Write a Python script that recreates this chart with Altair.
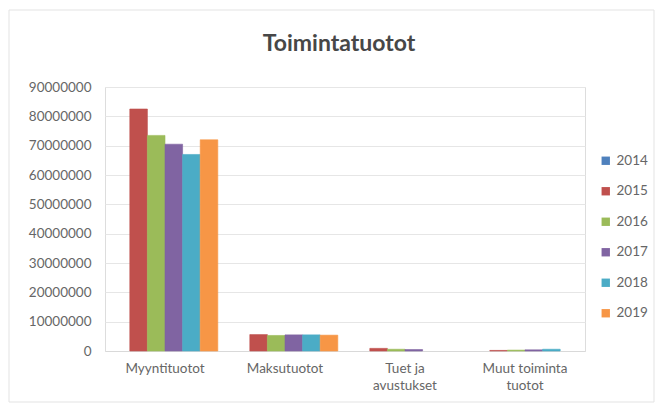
import altair as alt
import pandas as pd

categories = ["Myyntituotot", "Maksutuotot", "Tuet ja avustukset", "Muut toiminta tuotot"]
years = ["2014", "2015", "2016", "2017", "2018", "2019"]
values = {
    "2014": [None, None, None, None],
    "2015": [82500000, 5600000, 900000, 200000],
    "2016": [73500000, 5300000, 600000, 300000],
    "2017": [70500000, 5500000, 500000, 400000],
    "2018": [67000000, 5500000, None, 600000],
    "2019": [72000000, 5400000, None, None],
}
colors = ["#4F81BD", "#C0504D", "#9BBB59", "#8064A2", "#4BACC6", "#F79646"]
y_ticks = [0, 10000000, 20000000, 30000000, 40000000, 50000000, 60000000, 70000000, 80000000, 90000000]

rows = []
for y in years:
    for c, v in zip(categories, values[y]):
        if v is not None:
            rows.append({"category": c, "year": y, "value": v})
df = pd.DataFrame(rows)

FONT = "Lato"
GREY = "#666666"

bars = alt.Chart(df).mark_bar(strokeWidth=1, strokeOpacity=0.6).encode(
    x=alt.X("category:N", sort=categories, title=None,
            scale=alt.Scale(domain=categories, paddingInner=0.12, paddingOuter=0.06),
            axis=alt.Axis(labelExpr="datum.value == 'Tuet ja avustukset' ? ['Tuet ja', 'avustukset'] : datum.value == 'Muut toiminta tuotot' ? ['Muut toiminta', 'tuotot'] : datum.value",
                          labelAngle=0, labelFont=FONT, labelFontSize=13.5, labelColor=GREY,
                          domain=True, domainColor="#d9d9d9", ticks=False, labelPadding=10,
                          labelLineHeight=17)),
    xOffset=alt.XOffset("year:N", scale=alt.Scale(domain=years)),
    y=alt.Y("value:Q", title=None,
            scale=alt.Scale(domain=[0, 90000000], nice=False),
            axis=alt.Axis(values=y_ticks, format="d", labelFont=FONT, labelFontSize=13.5,
                          labelColor=GREY, domain=False, ticks=False, labelPadding=14,
                          grid=True, gridColor="#e6e6e6")),
    color=alt.Color("year:N", scale=alt.Scale(domain=years, range=colors),
                    legend=alt.Legend(title=None, orient="none", legendX=494, legendY=67,
                                      symbolType="square", symbolSize=70, rowPadding=15.5,
                                      labelFont=FONT, labelFontSize=13.5, labelColor=GREY,
                                      symbolStrokeWidth=0)),
    stroke=alt.Color("year:N", scale=alt.Scale(domain=years, range=colors), legend=None),
)

frame = alt.Chart(pd.DataFrame({"a": [0]})).mark_rect(
    fill=None, stroke="#e3e3e3", strokeWidth=1
).encode(
    x=alt.value(-96), x2=alt.value(549), y=alt.value(-77), y2=alt.value(315)
)

chart = alt.layer(frame, bars).properties(
    width=480, height=264,
    autosize=alt.AutoSizeParams(type="none"),
    padding={"left": 97, "top": 79, "right": 70, "bottom": 52},
    title=alt.TitleParams("Toimintatuotot", font=FONT, fontSize=23, fontWeight="bold",
                          color="#474747", anchor="middle", frame="group", offset=-46, dx=-6),
).configure_view(stroke=None).configure(background="white")

chart.save("out.html", embed_options={"renderer": "svg", "actions": False})
